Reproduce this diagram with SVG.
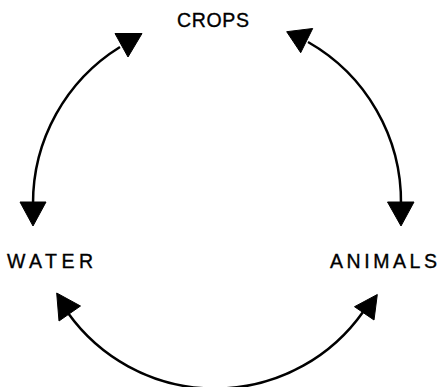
<svg xmlns="http://www.w3.org/2000/svg" width="439" height="387" viewBox="0 0 439 387">
<style>
.lbl{font-family:"Liberation Sans",Arial,sans-serif;font-size:19.5px;fill:#000;stroke:#000;stroke-width:0.35}
.arc{fill:none;stroke:#000;stroke-width:2.5}
.head{fill:#000;stroke:#000;stroke-width:1;stroke-linejoin:miter}
</style>
<rect width="439" height="387" fill="#fff"/>
<g id="connectors">
<path class="arc" d="M120 47 A184 184 0 0 0 33 204"/>
<polygon class="head" points="115,33.5 142,33.5 128,57"/>
<path class="arc" d="M308 42 A184 184 0 0 1 401 204"/>
<polygon class="head" points="286.7,31.7 312.7,28.5 300.7,52.7"/>
<polygon class="head" points="20,202 46,202 33,226"/>
<polygon class="head" points="387.5,202 414,202 401,226"/>
<path class="arc" d="M68 313 A181 181 0 0 0 363 312"/>
<polygon class="head" points="56.7,293 80.5,306 59,321"/>
<polygon class="head" points="354.5,306.7 377.3,294.5 374,320"/>
</g>
<g id="crops"><text class="lbl" x="177" y="27" textLength="72" lengthAdjust="spacing">CROPS</text></g>
<g id="water"><text class="lbl" x="7" y="268" textLength="86" lengthAdjust="spacing">WATER</text></g>
<g id="animals"><text class="lbl" x="330" y="268" textLength="107" lengthAdjust="spacing">ANIMALS</text></g>
</svg>
